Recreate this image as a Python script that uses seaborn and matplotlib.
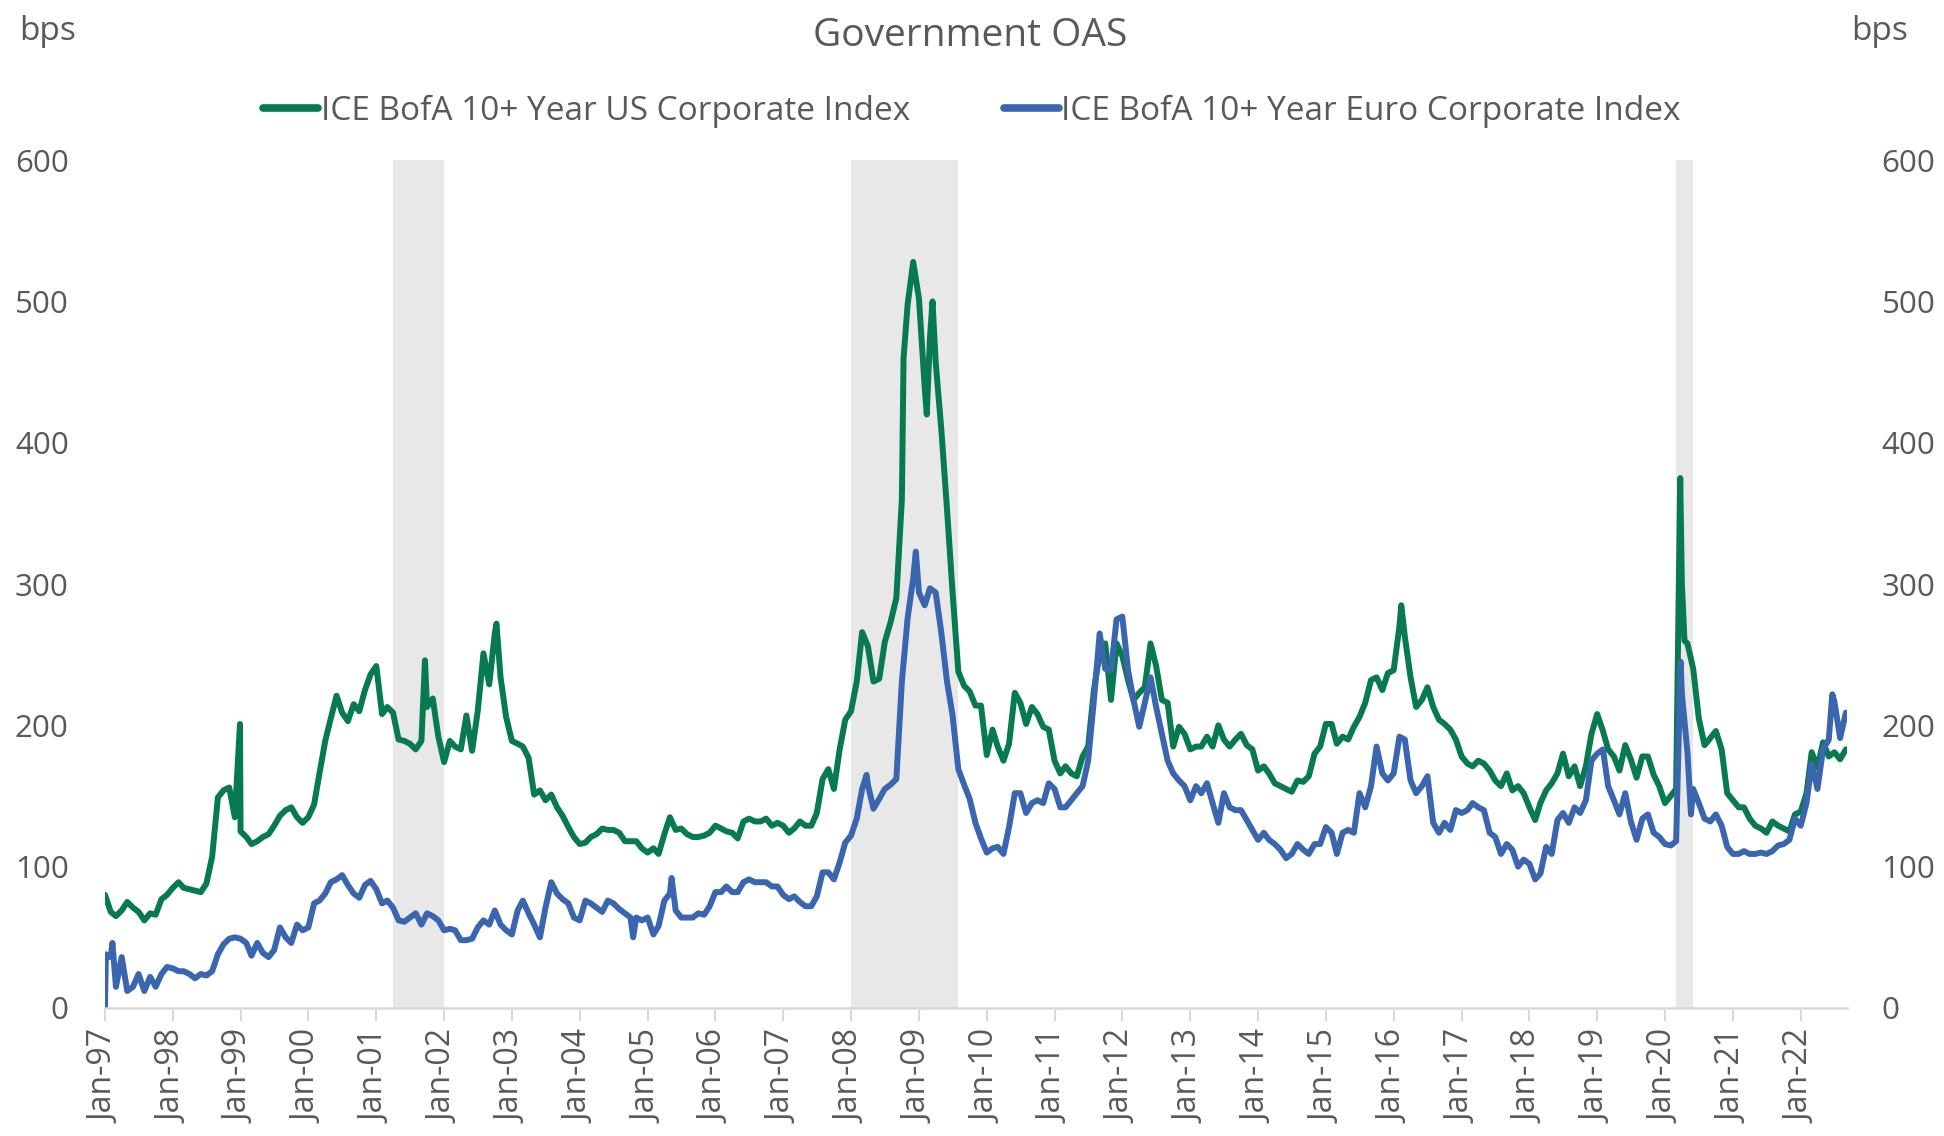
import pandas as pd
import seaborn as sns
import matplotlib.pyplot as plt

# -----------------------------
# data (monthly readings, bps) Jan-97 .. Sep-22
# -----------------------------
us_oas = [
    80, 68, 65, 69, 75, 71, 68, 62, 67, 66, 77, 80,            # 1997
    85, 89, 85, 84, 83, 82, 88, 107, 149, 154, 156, 135,       # 1998
    125, 121, 116, 118, 121, 123, 129, 136, 140, 142, 135, 131,  # 1999
    135, 144, 166, 189, 205, 221, 209, 203, 215, 210, 225, 236,  # 2000
    242, 208, 213, 209, 190, 189, 187, 183, 189, 213, 219, 192,  # 2001
    174, 189, 185, 183, 207, 182, 210, 251, 229, 265, 234, 206,  # 2002
    189, 187, 185, 177, 151, 154, 147, 151, 142, 136, 128, 121,  # 2003
    116, 117, 121, 123, 127, 126, 126, 124, 118, 118, 118, 113,  # 2004
    110, 113, 109, 123, 135, 126, 127, 123, 121, 121, 122, 124,  # 2005
    129, 127, 125, 124, 120, 132, 134, 132, 132, 134, 129, 131,  # 2006
    129, 124, 127, 132, 129, 129, 138, 162, 169, 155, 183, 204,  # 2007
    210, 231, 266, 256, 231, 233, 259, 273, 290, 360, 498, 528,  # 2008
    502, 439, 474, 457, 410, 353, 294, 238, 228, 224, 214, 214,  # 2009
    179, 197, 185, 175, 187, 223, 216, 201, 213, 208, 199, 197,  # 2010
    175, 166, 171, 166, 164, 178, 185, 225, 251, 258, 218, 258,  # 2011
    249, 232, 218, 223, 227, 258, 242, 218, 216, 185, 199, 194,  # 2012
    183, 185, 185, 192, 185, 200, 190, 185, 190, 194, 186, 183,  # 2013
    168, 171, 166, 159, 157, 155, 153, 161, 160, 164, 180, 185,  # 2014
    201, 201, 187, 192, 190, 199, 206, 216, 232, 234, 225, 237,  # 2015
    239, 270, 263, 234, 213, 218, 227, 213, 204, 201, 197, 190,  # 2016
    178, 173, 171, 175, 173, 168, 161, 157, 166, 154, 157, 152,  # 2017
    142, 133, 145, 154, 159, 166, 180, 164, 171, 157, 171, 194,  # 2018
    208, 196, 183, 178, 168, 186, 176, 163, 178, 178, 165, 157,  # 2019
    145, 150, 155, 300, 258, 240, 205, 186, 191, 196, 183, 152,  # 2020
    147, 142, 142, 134, 129, 127, 124, 132, 129, 127, 125, 137,  # 2021
    139, 152, 181, 170, 188, 178, 181, 176, 183,                 # 2022
]

euro_oas = [
    0, 36, 15, 36, 12, 15, 24, 12, 22, 15, 24, 29,              # 1997
    28, 26, 26, 24, 21, 24, 23, 26, 38, 45, 49, 50,             # 1998
    49, 46, 37, 46, 39, 36, 41, 57, 50, 46, 59, 55,             # 1999
    57, 74, 76, 81, 89, 91, 94, 87, 81, 78, 87, 90,             # 2000
    84, 74, 76, 71, 62, 61, 64, 67, 59, 67, 65, 62,             # 2001
    55, 56, 55, 48, 48, 49, 57, 62, 59, 69, 59, 55,             # 2002
    52, 69, 76, 67, 59, 50, 71, 89, 81, 77, 74, 64,             # 2003
    62, 76, 74, 71, 68, 76, 74, 70, 67, 64, 64, 62,             # 2004
    64, 52, 58, 76, 81, 69, 64, 64, 64, 67, 66, 72,             # 2005
    82, 82, 86, 82, 82, 89, 91, 89, 89, 89, 86, 86,             # 2006
    80, 77, 79, 75, 72, 72, 79, 96, 96, 91, 103, 117,           # 2007
    122, 134, 155, 158, 141, 148, 155, 158, 162, 231, 276, 304,  # 2008
    294, 285, 297, 294, 266, 231, 207, 169, 158, 148, 131, 120,  # 2009
    110, 113, 114, 109, 128, 152, 152, 138, 145, 147, 145, 159,  # 2010
    155, 142, 142, 147, 152, 157, 175, 218, 265, 240, 239, 275,  # 2011
    277, 239, 218, 199, 216, 234, 213, 194, 175, 166, 161, 157,  # 2012
    147, 157, 152, 159, 145, 131, 152, 142, 140, 140, 133, 126,  # 2013
    119, 124, 119, 116, 112, 106, 109, 116, 112, 109, 116, 116,  # 2014
    128, 124, 109, 124, 126, 124, 152, 142, 157, 185, 166, 161,  # 2015
    166, 192, 190, 161, 152, 157, 164, 131, 124, 131, 126, 140,  # 2016
    138, 140, 145, 142, 140, 124, 121, 109, 116, 112, 100, 105,  # 2017
    102, 91, 95, 114, 109, 133, 138, 131, 142, 138, 147, 175,   # 2018
    180, 183, 157, 147, 137, 152, 132, 119, 134, 137, 124, 121,  # 2019
    116, 115, 118, 222, 181, 155, 145, 134, 132, 137, 129, 114,  # 2020
    109, 109, 111, 109, 109, 110, 109, 111, 115, 116, 119, 134,  # 2021
    129, 145, 173, 155, 183, 190, 217, 191, 209,                 # 2022
]

# short-lived spikes between month starts
us_spike_dates = ["1998-12-29", "2001-09-20", "2002-10-10", "2008-10-10",
                  "2009-02-12", "2009-03-15", "2016-02-11", "2020-03-23", "2020-04-15"]
us_spike_vals = [201, 246, 272, 460, 420, 500, 285, 375, 260]

euro_spike_dates = ["1997-01-06", "1997-02-10", "2004-10-15", "2005-05-10",
                    "2008-03-25", "2008-12-15", "2020-03-25", "2020-05-20", "2022-06-20"]
euro_spike_vals = [38, 46, 50, 92, 165, 323, 245, 137, 222]

recessions = [("2001-04-01", "2001-12-31"), ("2008-01-01", "2009-07-31"), ("2020-03-01", "2020-05-31")]

tick_years = list(range(1997, 2023))
tick_labels = [f"Jan-{y % 100:02d}" for y in tick_years]

US_LABEL = "ICE BofA 10+ Year US Corporate Index"
EU_LABEL = "ICE BofA 10+ Year Euro Corporate Index"
GREEN = "#077A4F"
BLUE = "#3A66B0"
GREY = "#595959"

months = pd.date_range("1997-01-01", periods=len(us_oas), freq="MS")


def build(vals, sdates, svals):
    d = pd.concat([
        pd.DataFrame({"date": months, "bps": vals}),
        pd.DataFrame({"date": pd.to_datetime(sdates), "bps": svals}),
    ])
    return d.sort_values("date").reset_index(drop=True)


df_us = build(us_oas, us_spike_dates, us_spike_vals)
df_eu = build(euro_oas, euro_spike_dates, euro_spike_vals)

# -----------------------------
# figure
# -----------------------------
sns.set_style("white")
plt.rcParams["font.family"] = ["Open Sans", "DejaVu Sans"]

fig = plt.figure(figsize=(19.44, 11.36), dpi=100)
ax = fig.add_axes([0.054, 0.1127, 0.896, 0.7463])

for start, end in recessions:
    ax.axvspan(pd.Timestamp(start), pd.Timestamp(end), color="#E8E8E8", lw=0, zorder=0)

sns.lineplot(data=df_us, x="date", y="bps", color=GREEN, lw=4.3, ax=ax, label=US_LABEL)
sns.lineplot(data=df_eu, x="date", y="bps", color=BLUE, lw=4.3, ax=ax, label=EU_LABEL)

ax.set_xlim(months[0], months[-1] + pd.Timedelta(days=5))
ax.set_ylim(0, 600)
ax.set_yticks(range(0, 601, 100))
ax.set_xlabel("")
ax.set_ylabel("")

ax.set_xticks([pd.Timestamp(f"{y}-01-01") for y in tick_years])
ax.set_xticklabels(tick_labels, rotation=90)
ax.tick_params(axis="x", length=9, width=1.5, color="#D9D9D9", pad=7,
               labelsize=23, labelcolor=GREY, direction="out", bottom=True)
ax.tick_params(axis="y", length=0, pad=26, labelsize=22.5, labelcolor=GREY)

for s in ["top", "left", "right"]:
    ax.spines[s].set_visible(False)
ax.spines["bottom"].set_color("#D9D9D9")
ax.spines["bottom"].set_linewidth(1.8)

# right-hand copy of the scale
ax2 = ax.twinx()
ax2.set_ylim(0, 600)
ax2.set_yticks(range(0, 601, 100))
ax2.tick_params(axis="y", length=0, pad=25, labelsize=22.5, labelcolor=GREY)
for s in ax2.spines.values():
    s.set_visible(False)

leg = ax.legend(loc="center", bbox_to_anchor=(0.5, 0.902), bbox_transform=fig.transFigure,
                ncol=2, frameon=False, fontsize=24, labelcolor=GREY,
                handlelength=1.65, handletextpad=0.08, columnspacing=2.8)
for h in leg.get_lines():
    h.set_linewidth(5.5)

fig.text(0.499, 0.968, "Government OAS", ha="center", va="center", fontsize=28, color=GREY)
fig.text(0.0098, 0.972, "bps", ha="left", va="center", fontsize=24, color=GREY)
fig.text(0.952, 0.972, "bps", ha="left", va="center", fontsize=24, color=GREY)

fig.savefig("out.png", dpi=100)
